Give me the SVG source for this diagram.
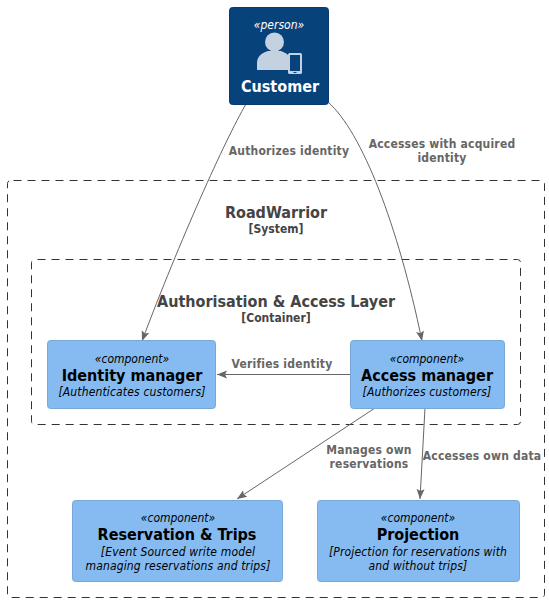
<svg xmlns="http://www.w3.org/2000/svg" width="549" height="602" viewBox="0 0 549 602">
<style>
text{font-family:"DejaVu Sans Condensed","DejaVu Sans",sans-serif;font-stretch:condensed;text-anchor:middle}
.c{fill:#85BBF0;stroke:#78A8D8;stroke-width:1}
.s{font-size:12px;font-style:italic;fill:#000}
.t{font-size:16px;font-weight:bold;fill:#000}
.d{font-size:12px;font-style:italic;fill:#000;letter-spacing:.15px}
.l{font-size:12px;font-weight:bold;fill:#666;letter-spacing:.2px}
.b{fill:none;stroke:#333;stroke-width:1;stroke-dasharray:8 6;stroke-dashoffset:-3}
.bt{font-size:16px;font-weight:bold;fill:#444}
.bs{font-size:12px;font-weight:bold;fill:#444}
.e{fill:none;stroke:#666;stroke-width:1}
</style>
<defs><marker id="a" markerUnits="userSpaceOnUse" markerWidth="12" markerHeight="10" refX="10" refY="5" orient="auto"><path d="M0,1 L10,5 L0,9 L2,5 Z" fill="#666"/></marker></defs>
<g id="boundary-system"><rect class="b" x="7.500" y="180.500" width="537" height="417" rx="3"/><text class="bt" x="276" y="218">RoadWarrior</text><text class="bs" x="276" y="233">[System]</text></g>
<g id="boundary-container"><rect class="b" x="31.500" y="259.500" width="489" height="165" rx="3"/><text class="bt" x="276" y="307">Authorisation &amp; Access Layer</text><text class="bs" x="276" y="322">[Container]</text></g>
<g id="connectors">
<path class="e" marker-end="url(#a)" d="M246,104 C225,140 180,240 142,341"/>
<path class="e" marker-end="url(#a)" d="M328,102 C362,132 398,225 422,341"/>
<path class="e" marker-end="url(#a)" d="M350,374.500 L217,374.500"/>
<path class="e" marker-end="url(#a)" d="M375,408 L237,499"/>
<path class="e" marker-end="url(#a)" d="M425,408 L420,499"/>
<text class="l" x="289" y="155">Authorizes identity</text>
<text class="l" x="442" y="148">Accesses with acquired</text><text class="l" x="442" y="162">identity</text>
<text class="l" x="282" y="368">Verifies identity</text>
<text class="l" x="369" y="454">Manages own</text><text class="l" x="369" y="468">reservations</text>
<text class="l" x="482" y="460">Accesses own data</text>
</g>
<g id="customer"><rect x="229.500" y="7.500" width="99" height="97" rx="3" fill="#08427B" stroke="#073B6F"/>
<text x="279" y="29" style="font-size:12px;font-style:italic;fill:#fff">«person»</text>
<circle cx="274.500" cy="42" r="9.500" fill="#C3D1E0"/>
<path d="M257,70 V63 C257,56 262,53 268,51 H281 C284,52 287,54 288,55 V70 Z" fill="#C3D1E0"/>
<rect x="288" y="53" width="14" height="21" rx="1.500" fill="#C3D1E0"/><rect x="290" y="55" width="10" height="16" fill="#08427B"/><rect x="293.500" y="72" width="3" height="1" fill="#08427B"/>
<text x="280" y="92" style="font-size:16px;font-weight:bold;fill:#fff">Customer</text></g>
<g id="identity-manager"><rect class="c" x="47.500" y="340.500" width="168" height="68" rx="3"/><text class="s" x="132" y="363">«component»</text><text class="t" x="132" y="381">Identity manager</text><text class="d" x="132" y="396">[Authenticates customers]</text></g>
<g id="access-manager"><rect class="c" x="350.500" y="340.500" width="154" height="68" rx="3"/><text class="s" x="427" y="363">«component»</text><text class="t" x="427" y="381">Access manager</text><text class="d" x="427" y="396">[Authorizes customers]</text></g>
<g id="reservation-trips"><rect class="c" x="72.500" y="500.500" width="210" height="81" rx="3"/><text class="s" x="178" y="522">«component»</text><text class="t" x="177" y="540">Reservation &amp; Trips</text><text class="d" x="178" y="556">[Event Sourced write model</text><text class="d" x="178" y="570">managing reservations and trips]</text></g>
<g id="projection"><rect class="c" x="317.500" y="500.500" width="202" height="81" rx="3"/><text class="s" x="418" y="522">«component»</text><text class="t" x="418" y="540">Projection</text><text class="d" x="418" y="556">[Projection for reservations with</text><text class="d" x="418" y="570">and without trips]</text></g>
</svg>
